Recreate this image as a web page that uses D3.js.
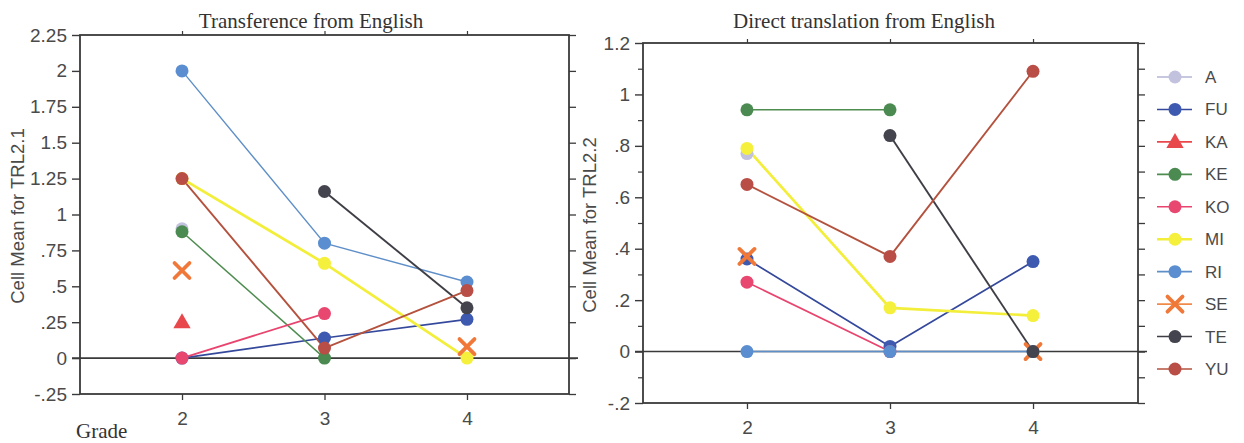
<!DOCTYPE html>
<html>
<head>
<meta charset="utf-8">
<script src="https://cdn.jsdelivr.net/npm/d3@7"></script>
<style>
  html, body { margin: 0; padding: 0; background: #fff; }
  svg { display: block; }
</style>
</head>
<body>
<svg id="chart" width="1244" height="443"></svg>
<script>
// Grades on the x axis
const grades = [2, 3, 4];
const gradeLabels = ["2", "3", "4"];

// Groups, in legend order
const groups = ["A", "FU", "KA", "KE", "KO", "MI", "RI", "SE", "TE", "YU"];

// Cell means for TRL2.1 (transference from English), one row per group, grades 2..4
const transferenceMeans = [
  [0.90, null, null],   // A
  [0.00, 0.14, 0.27],   // FU
  [0.25, null, null],   // KA
  [0.88, 0.00, null],   // KE
  [0.00, 0.31, null],   // KO
  [1.25, 0.66, 0.00],   // MI
  [2.00, 0.80, 0.53],   // RI
  [0.61, null, 0.08],   // SE
  [null, 1.16, 0.35],   // TE
  [1.25, 0.07, 0.47]    // YU
];

// Cell means for TRL2.2 (direct translation from English)
const directMeans = [
  [0.77, null, null],   // A
  [0.36, 0.02, 0.35],   // FU
  [null, null, null],   // KA
  [0.94, 0.94, null],   // KE
  [0.27, 0.00, null],   // KO
  [0.79, 0.17, 0.14],   // MI
  [0.00, 0.00, 0.00],   // RI
  [0.37, null, 0.00],   // SE
  [null, 0.84, 0.00],   // TE
  [0.65, 0.37, 1.09]    // YU
];

// Axis ticks
const transferenceTicks = [-0.25, 0, 0.25, 0.5, 0.75, 1, 1.25, 1.5, 1.75, 2, 2.25];
const transferenceTickLabels = ["-.25", "0", ".25", ".5", ".75", "1", "1.25", "1.5", "1.75", "2", "2.25"];
const directTicks = [-0.2, 0, 0.2, 0.4, 0.6, 0.8, 1, 1.2];
const directTickLabels = ["-.2", "0", ".2", ".4", ".6", ".8", "1", "1.2"];
const directMinorTicks = [-0.1, 0.1, 0.3, 0.5, 0.7, 0.9, 1.1];

// Styles per group
const lineColors = ["#b4b4d4", "#34489c", "#e8484c", "#4f8c50", "#e8446e", "#f2ee3a", "#5f8fc8", "#f08a4a", "#3e3e46", "#b4523e"];
const markColors = ["#c2c2de", "#3d59b0", "#e8484c", "#4b8a50", "#e84870", "#f4f03c", "#5a8ed0", "#f07838", "#44444e", "#b84e46"];
const lineWidths = [1.4, 1.7, 1.7, 1.5, 1.7, 2.7, 1.4, 1.7, 1.9, 1.9];
const markShapes = ["circle", "circle", "triangle", "circle", "circle", "circle", "circle", "cross", "circle", "circle"];

const svg = d3.select("#chart");
const axisColor = "#3a3a3a";
const textColor = "#4a4a4a";
const sansFont = "'Liberation Sans', Arial, sans-serif";
const serifFont = "'Liberation Serif', 'Times New Roman', serif";

function drawMark(g, shape, x, y, i) {
  if (shape === "circle") {
    g.append("circle").attr("cx", x).attr("cy", y).attr("r", 6.5)
      .attr("fill", markColors[i]);
  } else if (shape === "triangle") {
    g.append("path")
      .attr("d", d3.symbol().type(d3.symbolTriangle).size(130)())
      .attr("transform", `translate(${x},${y + 1})`)
      .attr("fill", markColors[i]);
  } else {
    const s = 7.5;
    g.append("path")
      .attr("d", `M${x - s},${y - s}L${x + s},${y + s}M${x - s},${y + s}L${x + s},${y - s}`)
      .attr("stroke", markColors[i]).attr("stroke-width", 3.8)
      .attr("stroke-linecap", "round").attr("fill", "none");
  }
}

function drawPanel(cfg) {
  const g = svg.append("g");
  const x = d3.scaleLinear().domain(cfg.xDomain).range(cfg.xRange);
  const y = d3.scaleLinear().domain(cfg.yDomain).range(cfg.yRange);
  const [x0, x1] = cfg.xRange;
  const [y0, y1] = cfg.yRange; // y0 bottom, y1 top

  // Left axis with labels
  const left = d3.axisLeft(y).tickValues(cfg.ticks)
    .tickFormat((d, i) => cfg.tickLabels[i]).tickSize(8).tickPadding(5);
  const la = g.append("g").attr("transform", `translate(${x0},0)`).call(left);
  la.select(".domain").remove();
  la.selectAll(".tick line").attr("stroke", axisColor).attr("stroke-width", 1.4);
  la.selectAll(".tick text").attr("fill", textColor)
    .style("font-family", sansFont).style("font-size", "19px");

  if (cfg.minorTicks) {
    const lm = d3.axisLeft(y).tickValues(cfg.minorTicks).tickFormat("").tickSize(5);
    const lma = g.append("g").attr("transform", `translate(${x0},0)`).call(lm);
    lma.select(".domain").remove();
    lma.selectAll(".tick line").attr("stroke", axisColor).attr("stroke-width", 1.2);
  }

  // Right axis, ticks only
  const rightVals = cfg.minorTicks ? cfg.ticks.concat(cfg.minorTicks) : cfg.ticks;
  const right = d3.axisRight(y).tickValues(rightVals).tickFormat("").tickSize(7);
  const ra = g.append("g").attr("transform", `translate(${x1},0)`).call(right);
  ra.select(".domain").remove();
  ra.selectAll(".tick line").attr("stroke", axisColor).attr("stroke-width", 1.3);

  // Bottom axis with grade labels
  const bottom = d3.axisBottom(x).tickValues(grades)
    .tickFormat((d, i) => gradeLabels[i]).tickSize(6).tickPadding(12);
  const ba = g.append("g").attr("transform", `translate(0,${y0})`).call(bottom);
  ba.select(".domain").remove();
  ba.selectAll(".tick line").attr("stroke", axisColor).attr("stroke-width", 1.3);
  ba.selectAll(".tick text").attr("fill", textColor)
    .style("font-family", sansFont).style("font-size", "19px");

  // Top axis, small ticks at grades
  const top = d3.axisTop(x).tickValues(grades).tickFormat("").tickSize(4);
  const ta = g.append("g").attr("transform", `translate(0,${y1})`).call(top);
  ta.select(".domain").remove();
  ta.selectAll(".tick line").attr("stroke", axisColor).attr("stroke-width", 1.2);

  // Frame
  g.append("rect").attr("x", x0).attr("y", y1)
    .attr("width", x1 - x0).attr("height", y0 - y1)
    .attr("fill", "none").attr("stroke", axisColor).attr("stroke-width", 1.8);

  // Zero reference line
  g.append("line").attr("x1", x0 - 8).attr("x2", x1 + 9)
    .attr("y1", y(0)).attr("y2", y(0))
    .attr("stroke", axisColor).attr("stroke-width", 1.6);

  // Series lines
  const line = d3.line()
    .defined(d => d.v !== null)
    .x(d => x(d.g)).y(d => y(d.v));
  cfg.values.forEach((row, i) => {
    const pts = row.map((v, k) => ({ g: grades[k], v: v }));
    g.append("path").datum(pts).attr("d", line)
      .attr("fill", "none").attr("stroke", lineColors[i])
      .attr("stroke-width", lineWidths[i]);
  });
  // Series markers
  cfg.values.forEach((row, i) => {
    row.forEach((v, k) => {
      if (v === null) return;
      drawMark(g, markShapes[i], x(grades[k]), y(v), i);
    });
  });

  // Title
  g.append("text").attr("x", cfg.titleX).attr("y", 28)
    .attr("text-anchor", "middle").attr("fill", "#333")
    .style("font-family", serifFont).style("font-size", "21px")
    .text(cfg.title);

  // Y axis title
  g.append("text")
    .attr("transform", `translate(${cfg.yLabelX},${cfg.yLabelY}) rotate(-90)`)
    .attr("text-anchor", "middle").attr("fill", textColor)
    .style("font-family", sansFont).style("font-size", "18.5px")
    .text(cfg.yLabel);
}

drawPanel({
  xDomain: [1.284, 4.716], xRange: [80, 569],
  yDomain: [-0.25, 2.25], yRange: [394, 35],
  ticks: transferenceTicks, tickLabels: transferenceTickLabels,
  values: transferenceMeans,
  title: "Transference from English", titleX: 311,
  yLabel: "Cell Mean for TRL2.1", yLabelX: 24, yLabelY: 216
});

drawPanel({
  xDomain: [1.273, 4.734], xRange: [643, 1138],
  yDomain: [-0.2, 1.2], yRange: [403, 43],
  ticks: directTicks, tickLabels: directTickLabels, minorTicks: directMinorTicks,
  values: directMeans,
  title: "Direct translation from English", titleX: 864,
  yLabel: "Cell Mean for TRL2.2", yLabelX: 596, yLabelY: 225
});

// "Grade" caption
svg.append("text").attr("x", 76).attr("y", 438)
  .attr("fill", "#333")
  .style("font-family", serifFont).style("font-size", "21px")
  .text("Grade");

// Legend
const legend = svg.append("g");
const legendY = d3.scalePoint().domain(groups).range([77, 369]);
groups.forEach((name, i) => {
  const ly = legendY(name);
  legend.append("line").attr("x1", 1157).attr("x2", 1192)
    .attr("y1", ly).attr("y2", ly)
    .attr("stroke", lineColors[i]).attr("stroke-width", name === "MI" ? 2.4 : 1.6);
  drawMark(legend, markShapes[i], 1175, ly, i);
  legend.append("text").attr("x", 1205).attr("y", ly + 6)
    .attr("fill", textColor)
    .style("font-family", sansFont).style("font-size", "17px")
    .text(name);
});
</script>
</body>
</html>
